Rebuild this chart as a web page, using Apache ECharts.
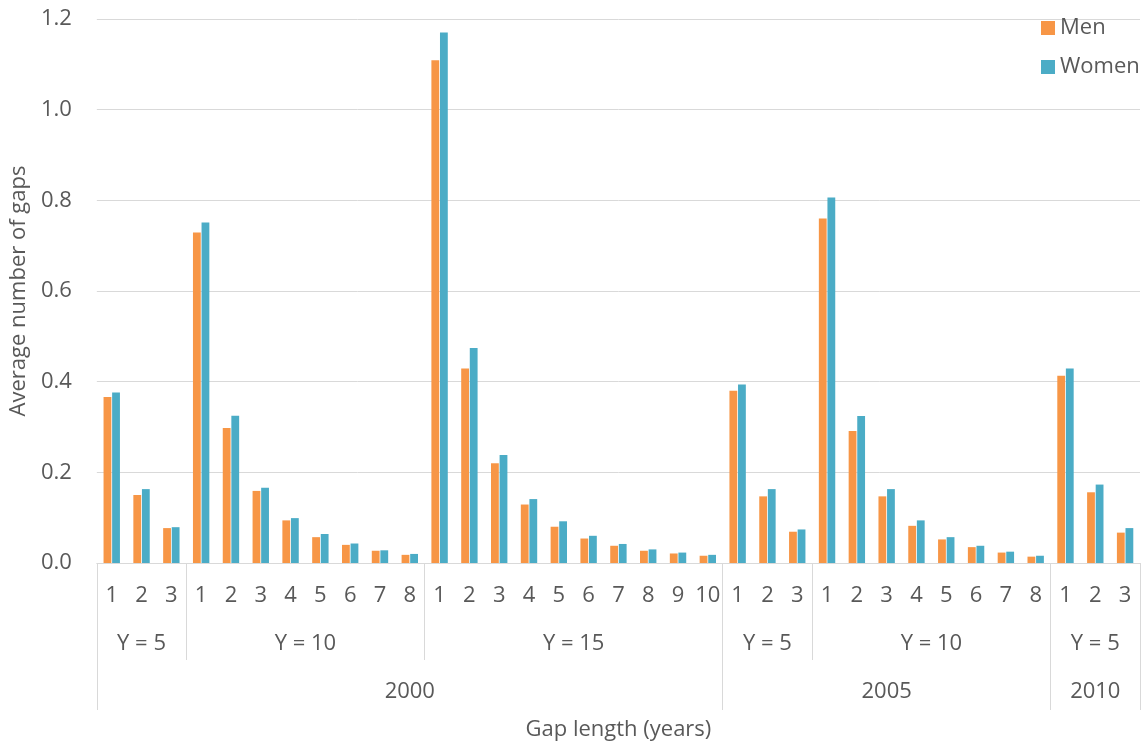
<!DOCTYPE html>
<html>
<head>
<meta charset="utf-8">
<script src="https://cdn.jsdelivr.net/npm/echarts@6/dist/echarts.min.js"></script>
<style>
  html, body { margin: 0; padding: 0; background: #ffffff; }
  #chart { width: 1148px; height: 746px; }
</style>
</head>
<body>
<div id="chart"></div>
<script>
// ---- data ----
const gapLengths = ['1','2','3', '1','2','3','4','5','6','7','8', '1','2','3','4','5','6','7','8','9','10',
                    '1','2','3', '1','2','3','4','5','6','7','8', '1','2','3'];
const men   = [0.366,0.150,0.077, 0.729,0.298,0.159,0.094,0.057,0.040,0.027,0.018,
               1.109,0.429,0.220,0.129,0.080,0.054,0.038,0.027,0.021,0.016,
               0.380,0.147,0.069, 0.760,0.291,0.147,0.082,0.052,0.035,0.023,0.014,
               0.413,0.156,0.067];
const women = [0.376,0.163,0.079, 0.751,0.325,0.166,0.099,0.064,0.043,0.028,0.020,
               1.170,0.474,0.238,0.141,0.092,0.060,0.042,0.030,0.023,0.018,
               0.394,0.163,0.074, 0.806,0.324,0.163,0.094,0.057,0.038,0.025,0.016,
               0.429,0.173,0.077];
const windowLabels = ['Y = 5','Y = 10','Y = 15','Y = 5','Y = 10','Y = 5'];
const windowSizes  = [3, 8, 10, 3, 8, 3];
const yearLabels   = ['2000','2005','2010'];
const yearSizes    = [21, 11, 3];
const yTicks = [0, 0.2, 0.4, 0.6, 0.8, 1.0, 1.2];

// ---- derived group positions (in category units) ----
function groupInfo(sizes, labels) {
  const bounds = [0], centers = [], map = {};
  let s = 0;
  sizes.forEach((n, i) => {
    const c = s + n / 2;
    centers.push(c);
    map[c] = labels[i];
    s += n;
    bounds.push(s);
  });
  return { bounds, centers, map };
}
const win = groupInfo(windowSizes, windowLabels);
const yr = groupInfo(yearSizes, yearLabels);
const total = gapLengths.length;
const winOnlyBounds = win.bounds.filter(b => yr.bounds.indexOf(b) < 0);

const FONT = "'Open Sans', 'Noto Sans', sans-serif";
const TXT = '#595959';
const GRID = '#d9d9d9';

const chart = echarts.init(document.getElementById('chart'), null, { renderer: 'canvas' });
chart.setOption({
  animation: false,
  backgroundColor: '#ffffff',
  textStyle: { fontFamily: FONT },
  grid: { left: 96, right: 8, top: 19, bottom: 183, containLabel: false },
  legend: {
    orient: 'vertical',
    left: 1036,
    top: 12,
    itemWidth: 14,
    itemHeight: 14,
    itemGap: 17,
    icon: 'rect',
    textStyle: { fontFamily: FONT, fontSize: 22, color: TXT, lineHeight: 22 },
    data: ['Men', 'Women']
  },
  xAxis: [
    {
      type: 'category',
      data: gapLengths,
      position: 'bottom',
      axisLine: { show: true, lineStyle: { color: GRID, width: 1 } },
      axisTick: { show: false },
      axisLabel: { interval: 0, margin: 22, fontFamily: FONT, fontSize: 22, color: TXT },
      name: 'Gap length (years)',
      nameLocation: 'middle',
      nameGap: 156,
      nameTextStyle: { fontFamily: FONT, fontSize: 22, color: TXT }
    },
    {
      type: 'value',
      min: 0, max: total,
      position: 'bottom',
      axisLine: { show: false },
      splitLine: { show: false },
      axisTick: { show: true, customValues: winOnlyBounds, length: 97, inside: false,
                  lineStyle: { color: GRID, width: 1 } },
      axisLabel: { show: true, customValues: win.centers, margin: 70,
                   formatter: v => win.map[v] || '',
                   fontFamily: FONT, fontSize: 22, color: TXT }
    },
    {
      type: 'value',
      min: 0, max: total,
      position: 'bottom',
      axisLine: { show: false },
      splitLine: { show: false },
      axisTick: { show: true, customValues: yr.bounds, length: 147, inside: false,
                  lineStyle: { color: GRID, width: 1 } },
      axisLabel: { show: true, customValues: yr.centers, margin: 118,
                   formatter: v => yr.map[v] || '',
                   fontFamily: FONT, fontSize: 22, color: TXT }
    }
  ],
  yAxis: {
    type: 'value',
    min: yTicks[0],
    max: yTicks[yTicks.length - 1],
    interval: 0.2,
    axisLine: { show: false },
    axisTick: { show: false },
    splitLine: { show: true, lineStyle: { color: GRID, width: 1 } },
    axisLabel: { margin: 25, formatter: v => v.toFixed(1), fontFamily: FONT, fontSize: 22, color: TXT },
    name: 'Average number of gaps',
    nameLocation: 'middle',
    nameGap: 64,
    nameTextStyle: { fontFamily: FONT, fontSize: 22, color: TXT }
  },
  series: [
    {
      name: 'Men', type: 'bar', xAxisIndex: 0, data: men,
      barCategoryGap: '45%', barGap: '10%',
      itemStyle: { color: '#F79646' }
    },
    {
      name: 'Women', type: 'bar', xAxisIndex: 0, data: women,
      barCategoryGap: '45%', barGap: '10%',
      itemStyle: { color: '#4BACC6' }
    }
  ]
});
</script>
</body>
</html>
